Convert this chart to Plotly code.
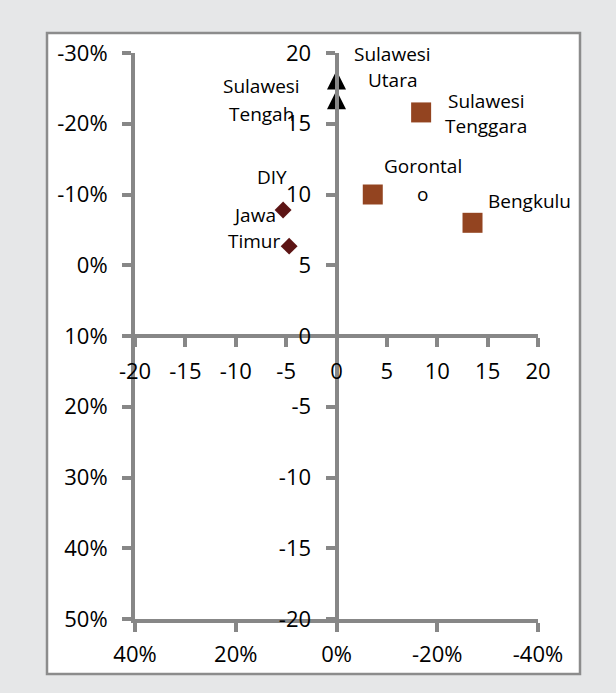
import plotly.graph_objects as go

# ---- data ----
tri_x = [0.0, 0.0]
tri_y = [18.1, 16.7]
tri_labels = [["Sulawesi", "Utara"], ["Sulawesi", "Tengah"]]

sq_x = [8.4, 3.6, 13.5]
sq_y = [15.8, 10.0, 8.0]
sq_labels = [["Sulawesi", "Tenggara"], ["Gorontal", "o"], ["Bengkulu"]]

dia_x = [-5.3, -4.7]
dia_y = [8.9, 6.35]
dia_labels = [["DIY"], ["Jawa", "Timur"]]

center_ticks = [-20, -15, -10, -5, 0, 5, 10, 15, 20]
center_text = ["-20", "-15", "-10", "-5", "0", "5", "10", "15", "20"]
left_ticks = [-30, -20, -10, 0, 10, 20, 30, 40, 50]
left_text = ["-30%", "-20%", "-10%", "0%", "10%", "20%", "30%", "40%", "50%"]
bottom_ticks = [40, 20, 0, -20, -40]
bottom_text = ["40%", "20%", "0%", "-20%", "-40%"]

# label offsets in pixels (dx, [dy per line]) relative to the point
tri_off = [(56, [26, 0]), (-75, [14, -14])]
sq_off = [(65, [11, -14]), (50, [29, 1]), (57, [22])]
dia_off = [(-11, [33]), (-35, [31, 5])]

FONT = "Open Sans"
AX = "#878787"

fig = go.Figure()
# upward triangle centred on the point: arrow-down turned 180 deg, backed off by half its height
fig.add_trace(go.Scatter(x=tri_x, y=tri_y, mode="markers",
                         marker=dict(symbol="arrow-down", size=19, color="black",
                                     angle=180, standoff=9.5,
                                     line=dict(color="black", width=0)),
                         showlegend=False, hoverinfo="skip"))
fig.add_trace(go.Scatter(x=sq_x, y=sq_y, mode="markers",
                         marker=dict(symbol="square", size=20, color="#934420"),
                         showlegend=False, hoverinfo="skip"))
fig.add_trace(go.Scatter(x=dia_x, y=dia_y, mode="markers",
                         marker=dict(symbol="diamond", size=13, color="#5c1414"),
                         showlegend=False, hoverinfo="skip"))
# empty trace to carry the percentage axes
fig.add_trace(go.Scatter(x=[], y=[], xaxis="x2", yaxis="y2", showlegend=False))

annotations = []
def add_labels(xs, ys, labels, offs):
    for x, y, lines, (dx, dys) in zip(xs, ys, labels, offs):
        for line, dy in zip(lines, dys):
            annotations.append(dict(x=x, y=y, xref="x", yref="y", text=line,
                                    showarrow=False, xshift=dx, yshift=dy,
                                    xanchor="center", yanchor="middle",
                                    font=dict(family=FONT, size=19, color="black")))
add_labels(tri_x, tri_y, tri_labels, tri_off)
add_labels(sq_x, sq_y, sq_labels, sq_off)
add_labels(dia_x, dia_y, dia_labels, dia_off)

L, R, T, B = 135, 78, 53, 74
W, H = 616, 693
pw, ph = W - L - R, H - T - B

def px2paper_x(px):
    return (px - L) / pw

def px2paper_y(py):
    return (H - B - py) / ph

shapes = [dict(type="rect", xref="paper", yref="paper", layer="below",
               x0=px2paper_x(47), x1=px2paper_x(580),
               y0=px2paper_y(674), y1=px2paper_y(33),
               fillcolor="white", line=dict(color="#8c8c8c", width=2.5))]

tickfont = dict(family=FONT, size=22, color="black")
common = dict(showline=True, linecolor=AX, linewidth=4, ticks="outside",
              ticklen=9, tickwidth=4, tickcolor=AX, showgrid=False,
              zeroline=False, tickmode="array", tickfont=tickfont)

fig.update_layout(
    width=W, height=H,
    margin=dict(l=L, r=R, t=T, b=B),
    paper_bgcolor="#e6e7e8",
    plot_bgcolor="rgba(0,0,0,0)",
    font=dict(family=FONT),
    shapes=shapes,
    annotations=annotations,
    xaxis=dict(range=[-20, 20], anchor="free", position=0.5,
               tickvals=center_ticks, ticktext=center_text,
               ticklabelstandoff=6, **common),
    yaxis=dict(range=[-20, 20], anchor="free", position=0.5, side="left",
               tickvals=center_ticks, ticktext=center_text,
               ticklabelstandoff=10, **common),
    xaxis2=dict(range=[40, -40], overlaying="x", anchor="y2", side="bottom",
                tickvals=bottom_ticks, ticktext=bottom_text,
                ticklabelstandoff=4, **common),
    yaxis2=dict(range=[50, -30], overlaying="y", anchor="x2", side="left",
                tickvals=left_ticks, ticktext=left_text,
                ticklabelstandoff=10, **common),
)

fig.write_html("out.html", config={"displayModeBar": False},
               post_script="document.body.style.margin='0';document.body.style.overflow='hidden';")
